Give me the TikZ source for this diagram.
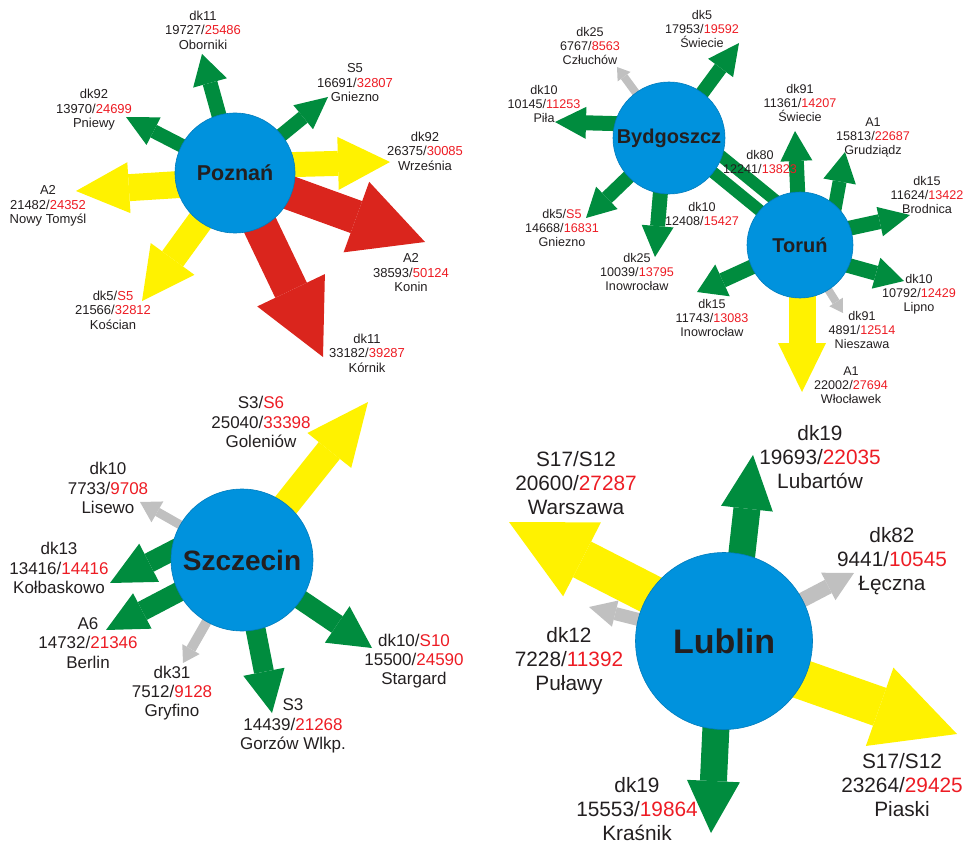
\documentclass[tikz,border=0pt]{standalone}
\usepackage{fontspec}
\setmainfont{Liberation Sans}
\usetikzlibrary{arrows.meta,backgrounds}
\definecolor{cityblue}{RGB}{0,146,221}
\definecolor{roadgreen}{RGB}{0,140,62}
\definecolor{roadyellow}{RGB}{255,242,0}
\definecolor{roadred}{RGB}{218,37,29}
\definecolor{roadgray}{RGB}{192,192,192}
\definecolor{numred}{RGB}{237,28,36}
\definecolor{txt}{RGB}{35,31,32}
\newcommand{\nr}[1]{\textcolor{numred}{#1}}

\begin{document}
\begin{tikzpicture}[x=1pt, y=-1pt]
\tikzstyle{City}=[shape=circle, fill=cityblue, draw=cityblue!85!black, line width=0.6pt,
                  inner sep=0pt, text=txt]
\tikzstyle{Label}=[align=center, inner sep=0pt, text=txt, font=\fontsize{13}{14.5}\selectfont]
\tikzstyle{LabelS}=[Label, font=\fontsize{12.6}{14}\selectfont]
\tikzstyle{LabelM}=[Label, font=\fontsize{17}{19.3}\selectfont]
\tikzstyle{LabelL}=[Label, font=\fontsize{20.8}{23.8}\selectfont]
\tikzstyle{Green}=[draw=roadgreen]
\tikzstyle{Yellow}=[draw=roadyellow]
\tikzstyle{Red}=[draw=roadred]
\tikzstyle{Gray}=[draw=roadgray]
\tikzset{Road/.style n args={3}{line width=#1pt, -{Triangle[width=#2pt, length=#3pt, line width=0pt]}}}
\useasboundingbox (0,0) rectangle (966,845);

\node[City, minimum size=120pt, font=\bfseries\fontsize{21.5}{24}\selectfont] (poz) at (235,173) {Poznań};
\node[City, minimum size=112pt, font=\bfseries\fontsize{20}{22}\selectfont] (byd) at (669,138) {Bydgoszcz};
\node[City, minimum size=106pt, font=\bfseries\fontsize{20}{22}\selectfont] (tor) at (800,245) {Toruń};
\node[City, minimum size=142pt, font=\bfseries\fontsize{28}{30}\selectfont] (scz) at (242,560) {Szczecin};
\node[City, minimum size=177pt, font=\bfseries\fontsize{34}{36}\selectfont] (lub) at (724,641) {Lublin};

\coordinate (pozObo) at (202,54);
\coordinate (pozGni) at (328,97);
\coordinate (pozPni) at (126,117);
\coordinate (pozWrz) at (390,162);
\coordinate (pozNow) at (76,191);
\coordinate (pozKos) at (142,301);
\coordinate (pozKon) at (425,242);
\coordinate (pozKor) at (323,357);
\coordinate (bydCzl) at (617,67);
\coordinate (bydSwi) at (739,43);
\coordinate (bydPil) at (555,122);
\coordinate (bydGni) at (586,218);
\coordinate (bydIno) at (655,257);
\coordinate (torSwi) at (795,131);
\coordinate (torGru) at (845,152);
\coordinate (torBro) at (910,215);
\coordinate (torLip) at (904,281);
\coordinate (torNie) at (843,313);
\coordinate (torWlo) at (802,392);
\coordinate (torIno) at (697,292);
\coordinate (sczGol) at (368,402);
\coordinate (sczLis) at (140,502);
\coordinate (sczKol) at (110,583);
\coordinate (sczBer) at (106,630);
\coordinate (sczGry) at (183,663);
\coordinate (sczGor) at (272,713);
\coordinate (sczSta) at (372,648);
\coordinate (lubLub) at (753,455);
\coordinate (lubLec) at (854,573);
\coordinate (lubWar) at (509,522);
\coordinate (lubPul) at (589,607);
\coordinate (lubPia) at (957,734);
\coordinate (lubKra) at (711,833);

\begin{pgfonlayer}{background}
\draw[Green, Road={15}{35}{30}] (poz.center) -- (pozObo);
\draw[Green, Road={14}{31}{32}] (poz.center) -- (pozGni);
\draw[Green, Road={14}{31}{31}] (poz.center) -- (pozPni);
\draw[Yellow, Road={25}{53}{52}] ([shift={(5,-7)}]poz.center) -- (pozWrz);
\draw[Yellow, Road={27}{51}{53}] ([shift={(0,8)}]poz.center) -- (pozNow);
\draw[Yellow, Road={26}{54}{52}] (poz.center) -- (pozKos);
\draw[Red, Road={34}{75}{73}] (poz.center) -- (pozKon);
\draw[Red, Road={35}{75}{74}] (poz.center) -- (pozKor);

\draw[Gray, Road={8}{16}{12}] (byd.center) -- (bydCzl);
\draw[Green, Road={14}{31}{31}] (byd.center) -- (bydSwi);
\draw[Green, Road={15}{32}{31}] ([shift={(0,-13)}]byd.center) -- (bydPil);
\draw[Green, Road={14}{31}{29}] (byd.center) -- (bydGni);
\draw[Green, Road={15}{32}{31}] ([shift={(-4,0)}]byd.center) -- (bydIno);
\draw[Green, line width=12pt] ([shift={(12,-14.7)}]byd.center) -- ([shift={(12,-14.7)}]tor.center);
\draw[Green, line width=12pt] ([shift={(0.8,-1)}]byd.center) -- ([shift={(0.8,-1)}]tor.center);

\draw[Green, Road={15}{32}{30}] (tor.center) -- (torSwi);
\draw[Green, Road={14}{33}{30}] ([shift={(28,0)}]tor.center) -- (torGru);
\draw[Green, Road={15}{30}{31}] ([shift={(0,-6)}]tor.center) -- (torBro);
\draw[Green, Road={15}{32}{29}] ([shift={(0,7)}]tor.center) -- (torLip);
\draw[Gray, Road={8}{16}{13}] (tor.center) -- (torNie);
\draw[Yellow, Road={27}{48}{49}] ([shift={(2,0)}]tor.center) -- (torWlo);
\draw[Green, Road={15}{35}{28}] (tor.center) -- (torIno);

\draw[Yellow, Road={27}{56}{62}] (scz.center) -- (sczGol);
\draw[Gray, Road={9}{24}{20}] (scz.center) -- (sczLis);
\draw[Green, Road={20}{43}{44}] ([shift={(-14,-38)}]scz.center) -- (sczKol);
\draw[Green, Road={20}{40}{41}] ([shift={(-12,5)}]scz.center) -- (sczBer);
\draw[Gray, Road={10}{20}{16}] (scz.center) -- (sczGry);
\draw[Green, Road={20}{42}{42}] (scz.center) -- (sczGor);
\draw[Green, Road={20}{44}{42}] (scz.center) -- (sczSta);

\draw[Green, Road={27}{52}{54}] ([shift={(8,0)}]lub.center) -- (lubLub);
\draw[Gray, Road={15}{31}{29}] (lub.center) -- (lubLec);
\draw[Yellow, Road={40}{83}{82}] ([shift={(0,-9)}]lub.center) -- (lubWar);
\draw[Gray, Road={13}{27}{27}] (lub.center) -- (lubPul);
\draw[Yellow, Road={40}{83}{82}] ([shift={(0,11)}]lub.center) -- (lubPia);
\draw[Green, Road={27}{53}{52}] ([shift={(-4,0)}]lub.center) -- (lubKra);
\end{pgfonlayer}

\node[Label] (lObo) at (203,30) {dk11\\19727/\nr{25486}\\Oborniki};
\node[Label] (lGni) at (355,83) {S5\\16691/\nr{32807}\\Gniezno};
\node[Label] (lPni) at (94,110) {dk92\\13970/\nr{24699}\\Pniewy};
\node[Label] (lWrz) at (425,151) {dk92\\26375/\nr{30085}\\Września};
\node[Label] (lNow) at (48,206) {A2\\21482/\nr{24352}\\Nowy Tomyśl};
\node[Label] (lKos) at (113,310) {dk5/\nr{S5}\\21566/\nr{32812}\\Kościan};
\node[Label] (lKon) at (411,273) {A2\\38593/\nr{50124}\\Konin};
\node[Label] (lKor) at (367,353) {dk11\\33182/\nr{39287}\\Kórnik};

\node[LabelS] (lCzl) at (590,46) {dk25\\6767/\nr{8563}\\Człuchów};
\node[LabelS] (lSwi5) at (702,29) {dk5\\17953/\nr{19592}\\Świecie};
\node[LabelS] (lPil) at (544,104) {dk10\\10145/\nr{11253}\\Piła};
\node[LabelS] (lGni5) at (562,228) {dk5/\nr{S5}\\14668/\nr{16831}\\Gniezno};
\node[LabelS] (lIno25) at (637,272) {dk25\\10039/\nr{13795}\\Inowrocław};
\node[LabelS] (lDk80) at (760,162) {dk80\\12241/\nr{13823}};
\node[LabelS] (lDk10) at (702,214) {dk10\\12408/\nr{15427}};
\node[LabelS] (lSwi91) at (800,103) {dk91\\11361/\nr{14207}\\Świecie};
\node[LabelS] (lGru) at (873,137) {A1\\15813/\nr{22687}\\Grudziądz};
\node[LabelS] (lBro) at (927,195) {dk15\\11624/\nr{13422}\\Brodnica};
\node[LabelS] (lLip) at (919,294) {dk10\\10792/\nr{12429}\\Lipno};
\node[LabelS] (lNie) at (862,330) {dk91\\4891/\nr{12514}\\Nieszawa};
\node[LabelS] (lWlo) at (851,385) {A1\\22002/\nr{27694}\\Włocławek};
\node[LabelS] (lIno15) at (712,318) {dk15\\11743/\nr{13083}\\Inowrocław};

\node[LabelM] (lGol) at (261,422) {S3/\nr{S6}\\25040/\nr{33398}\\Goleniów};
\node[LabelM] (lLis) at (108,488) {dk10\\7733/\nr{9708}\\Lisewo};
\node[LabelM] (lKol) at (59,568) {dk13\\13416/\nr{14416}\\Kołbaskowo};
\node[LabelM] (lBer) at (88,643) {A6\\14732/\nr{21346}\\Berlin};
\node[LabelM] (lGry) at (172,693) {dk31\\7512/\nr{9128}\\Gryfino};
\node[LabelM] (lGor) at (293,726) {S3\\14439/\nr{21268}\\Gorzów Wlkp.};
\node[LabelM] (lSta) at (414,661) {dk10/\nr{S10}\\15500/\nr{24590}\\Stargard};

\node[LabelL] (lWar) at (576,483) {S17/S12\\20600/\nr{27287}\\Warszawa};
\node[LabelL] (lLub) at (820,457) {dk19\\19693/\nr{22035}\\Lubartów};
\node[LabelL] (lLec) at (892,561) {dk82\\9441/\nr{10545}\\Łęczna};
\node[LabelL] (lPul) at (569,661) {dk12\\7228/\nr{11392}\\Puławy};
\node[LabelL] (lKra) at (637,809) {dk19\\15553/\nr{19864}\\Kraśnik};
\node[LabelL] (lPia) at (902,785) {S17/S12\\23264/\nr{29425}\\Piaski};
\end{tikzpicture}
\end{document}
